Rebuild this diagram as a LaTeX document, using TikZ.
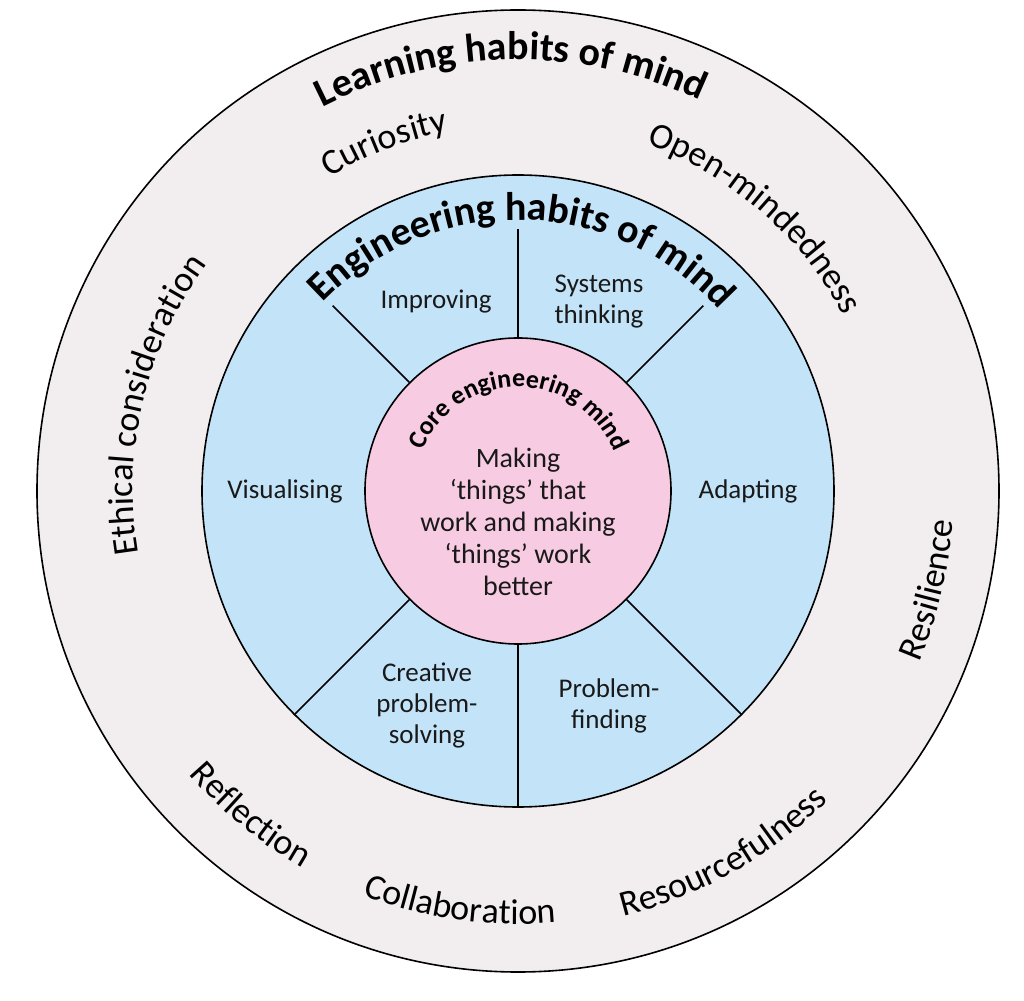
\documentclass[tikz,border=0pt]{standalone}
\usepackage{fontspec}
\setmainfont{Carlito}
\usetikzlibrary{decorations.text, positioning}

\definecolor{learnbg}{HTML}{F2EEEF}
\definecolor{engbg}{HTML}{C3E4F8}
\definecolor{corebg}{HTML}{F7CCE2}

\newcommand\ringtitlefont{\bfseries\fontsize{40}{48}\selectfont}
\newcommand\corefont{\bfseries\fontsize{26}{30}\selectfont}
\newcommand\traitfont{\fontsize{36}{43}\selectfont}

\tikzset{
  ring/.style={circle, draw=black, line width=1.6pt, inner sep=0pt},
  divider/.style={line width=1.6pt, black},
  habit/.style={align=center, font=\fontsize{27}{31}\selectfont, text=black!90},
  coretext/.style={align=center, font=\fontsize{28}{32}\selectfont, text=black!90},
}

\begin{document}
\begin{tikzpicture}[x=1pt, y=1pt]
  \useasboundingbox (-518,-509) rectangle (506,491);
  % the three rings
  \node[ring, fill=learnbg, minimum size=962] (learning) at (0,0) {};
  \node[ring, fill=engbg, minimum size=632] (eng) at (0,0) {};
  \node[ring, fill=corebg, minimum size=306] (core) at (0,0) {};
  % dividers of the engineering ring
  \foreach \a in {45, 90, 135} {
    \coordinate (top\a) at (\a:262);
    \draw[divider] (core.\a) -- (top\a);
  }
  \foreach \a in {225, 270, 315}
    \draw[divider] (core.\a) -- (eng.\a);
  % ring titles
  \path[decorate, decoration={text along path, text align=center,
      text={|\ringtitlefont|Learning habits of mind}}]
    (161:431) arc[start angle=161, end angle=21, radius=431];
  \path[decorate, decoration={text along path, text align=center,
      text={|\ringtitlefont|Engineering habits of mind}}]
    (159:271) arc[start angle=159, end angle=19, radius=271];
  \path[decorate, decoration={text along path, text align=center,
      text={|\corefont|Core engineering mind}}]
    (179.5:104) arc[start angle=179.5, end angle=-0.5, radius=104];
  % learning habits, top half reads clockwise
  \foreach \c/\r/\w in {111/366/Curiosity, 49/370/Open-mindedness,
                        166.6/385/Ethical consideration}
    \path[decorate, decoration={text along path, text align=center,
        text/.expanded={|\noexpand\traitfont|\w}}]
      ({\c+70}:\r) arc[start angle=\c+70, end angle=\c-70, radius=\r];
  % bottom half reads anticlockwise
  \foreach \c/\r/\w in {-13.5/436/Resilience, 230.5/434/Reflection,
                        262/433/Collaboration, 299.5/438/Resourcefulness}
    \path[decorate, decoration={text along path, text align=center,
        text/.expanded={|\noexpand\traitfont|\w}}]
      ({\c-70}:\r) arc[start angle=\c-70, end angle=\c+70, radius=\r];
  % engineering habits
  \node[habit] (improving) at (-82,189) {Improving};
  \node[habit] (systems) at (81,189) {Systems\\thinking};
  \node[habit] (visualising) at (-233,0) {Visualising};
  \node[habit] (adapting) at (230,0) {Adapting};
  \node[habit] (creative) at (-91,-214) {Creative\\problem-\\solving};
  \node[habit] (finding) at (91,-215) {Problem-\\finding};
  % core
  \node[coretext] (making) at (0,-31)
    {Making\\`things' that\\work and making\\`things' work\\better};
\end{tikzpicture}
\end{document}
